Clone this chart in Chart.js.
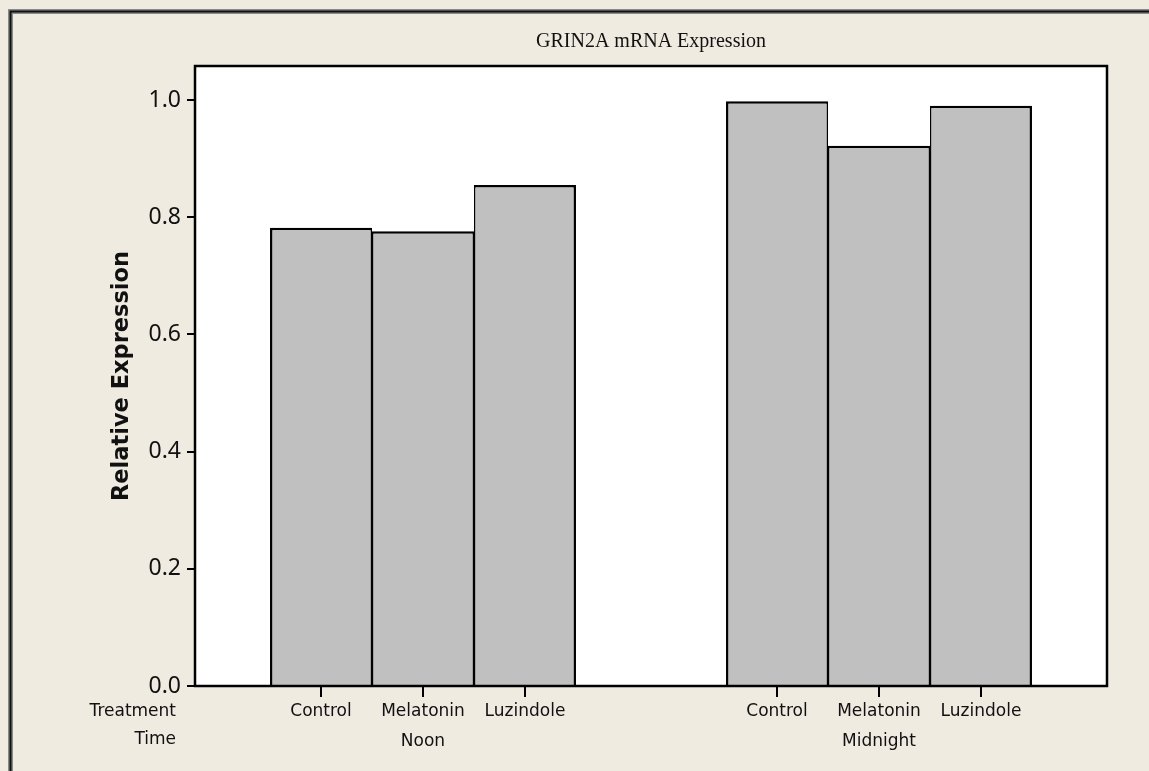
<!DOCTYPE html>
<html>
<head>
<meta charset="utf-8">
<script src="https://cdn.jsdelivr.net/npm/chart.js@4.4.1/dist/chart.umd.min.js"></script>
<style>
  html, body { margin: 0; padding: 0; background: #efebe1; }
  #wrap { width: 1149px; height: 771px; }
</style>
</head>
<body>
<div id="wrap"><canvas id="grinChart" width="1149" height="771"></canvas></div>
<script>
// data
const timeLabels = ['Noon', 'Midnight'];
const treatments = ['Control', 'Melatonin', 'Luzindole'];
const controlValues = [0.782, 0.998];
const melatoninValues = [0.776, 0.922];
const luzindoleValues = [0.855, 0.990];
const yTicks = [0.0, 0.2, 0.4, 0.6, 0.8, 1.0];
const rowLabels = ['Treatment', 'Time'];

const labelFont = '17px "DejaVu Sans"';

// beige page with the dark frame on the left and top
const framePlugin = {
    id: 'frame',
    beforeDraw(chart) {
        const ctx = chart.ctx;
        const area = chart.chartArea;
        ctx.save();
        ctx.fillStyle = '#efebe1';
        ctx.fillRect(0, 0, chart.width, chart.height);
        // outer frame
        ctx.strokeStyle = '#8a8a8a';
        ctx.lineWidth = 5;
        ctx.beginPath();
        ctx.moveTo(10.5, chart.height);
        ctx.lineTo(10.5, 11.5);
        ctx.lineTo(chart.width, 11.5);
        ctx.stroke();
        ctx.strokeStyle = '#111';
        ctx.lineWidth = 2;
        ctx.stroke();
        // white plot area
        ctx.fillStyle = '#ffffff';
        ctx.fillRect(area.left, area.top, area.right - area.left, area.bottom - area.top);
        ctx.restore();
    },
    afterDatasetsDraw(chart) {
        const ctx = chart.ctx;
        const area = chart.chartArea;
        ctx.save();
        ctx.strokeStyle = '#000';
        ctx.lineWidth = 2.5;
        ctx.strokeRect(area.left, area.top, area.right - area.left, area.bottom - area.top);
        ctx.restore();
    },
    // treatment labels and tick marks under each bar
    afterDraw(chart) {
        const ctx = chart.ctx;
        const area = chart.chartArea;
        ctx.save();
        ctx.font = labelFont;
        ctx.fillStyle = '#111';
        ctx.textBaseline = 'middle';
        ctx.textAlign = 'center';
        ctx.strokeStyle = '#000';
        ctx.lineWidth = 2;
        chart.data.datasets.forEach((ds, i) => {
            const meta = chart.getDatasetMeta(i);
            meta.data.forEach((bar) => {
                ctx.beginPath();
                ctx.moveTo(bar.x, area.bottom);
                ctx.lineTo(bar.x, area.bottom + 11);
                ctx.stroke();
                ctx.fillText(ds.label, bar.x, area.bottom + 26);
            });
        });
        ctx.textAlign = 'right';
        ctx.fillText(rowLabels[0], area.left - 19, area.bottom + 26);
        ctx.fillText(rowLabels[1], area.left - 19, area.bottom + 54);
        ctx.restore();
    }
};

const barStyle = {
    backgroundColor: '#c0c0c0',
    borderColor: '#000',
    borderSkipped: false,
    barPercentage: 1.0,
    categoryPercentage: 0.671
};

const grinChart = new Chart(document.getElementById('grinChart'), {
    type: 'bar',
    data: {
        labels: timeLabels,
        datasets: [
            Object.assign({ label: treatments[0], data: controlValues,
                borderWidth: { top: 2.5, left: 2.5, right: 1.5, bottom: 0 } }, barStyle),
            Object.assign({ label: treatments[1], data: melatoninValues,
                borderWidth: { top: 2.5, left: 1.5, right: 1.5, bottom: 0 } }, barStyle),
            Object.assign({ label: treatments[2], data: luzindoleValues,
                borderWidth: { top: 2.5, left: 1.5, right: 2.5, bottom: 0 } }, barStyle)
        ]
    },
    options: {
        responsive: false,
        animation: false,
        layout: { padding: { left: 0, right: 42, top: 0, bottom: 0 } },
        plugins: {
            legend: { display: false },
            tooltip: { enabled: false },
            title: {
                display: true,
                fullSize: false,
                text: 'GRIN2A mRNA Expression',
                color: '#111',
                font: { family: '"Liberation Serif"', size: 20, weight: 'normal' },
                padding: { top: 30, bottom: 12 }
            }
        },
        scales: {
            x: {
                grid: { display: false },
                border: { display: false },
                ticks: {
                    color: '#111',
                    font: { family: '"DejaVu Sans"', size: 17, lineHeight: 28 / 17 },
                    padding: 6,
                    maxRotation: 0,
                    callback: function (value) {
                        return ['', this.getLabelForValue(value)];
                    }
                },
                afterFit: (scale) => { scale.height = 85; }
            },
            y: {
                min: 0,
                max: 1.058,
                border: { display: false },
                grid: {
                    drawOnChartArea: false,
                    drawTicks: true,
                    tickLength: 8,
                    color: '#000',
                    lineWidth: 2
                },
                ticks: {
                    color: '#111',
                    font: { family: '"Noto Sans"', size: 23 },
                    padding: 6,
                    callback: (value) => value.toFixed(1)
                },
                afterBuildTicks: (scale) => {
                    scale.ticks = yTicks.map((v) => ({ value: v }));
                },
                title: {
                    display: true,
                    text: 'Relative Expression',
                    color: '#111',
                    font: { family: '"DejaVu Sans"', size: 22.5, weight: 'bold' },
                    padding: { top: 109, bottom: 0 }
                },
                afterFit: (scale) => { scale.width = 195; }
            }
        }
    },
    plugins: [framePlugin]
});
</script>
</body>
</html>
